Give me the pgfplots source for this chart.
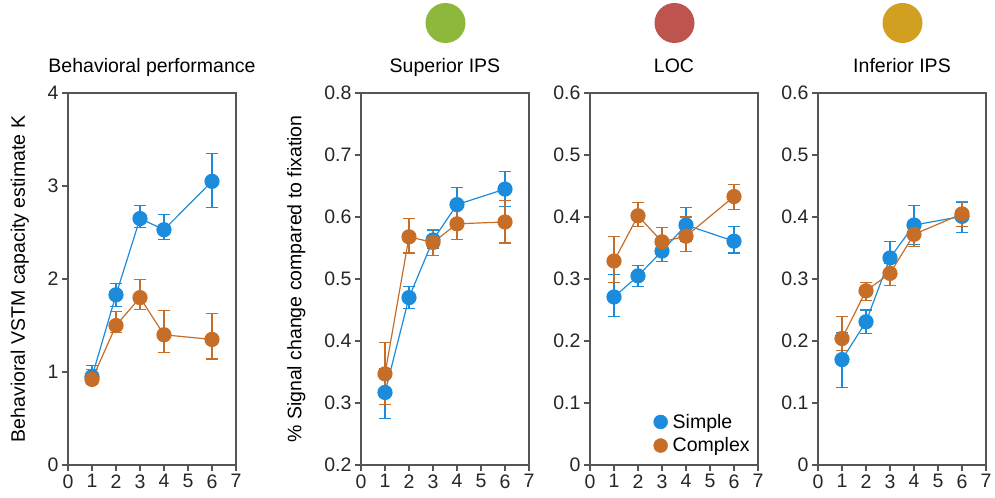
\documentclass[border=0pt]{standalone}
\usepackage{fontspec}
\setmainfont{Liberation Sans}
\usepackage{pgfplots}
\pgfplotsset{compat=1.18}

\definecolor{cSimple}{HTML}{1A8CDB}
\definecolor{cComplex}{HTML}{C66E28}
\definecolor{cGreen}{HTML}{8DB83C}
\definecolor{cRed}{HTML}{BE5450}
\definecolor{cGold}{HTML}{D1A020}
\definecolor{cAxis}{HTML}{555555}

\newcommand\tf{\fontsize{19.5bp}{23bp}\selectfont}

\pgfplotsset{
  panel/.style={
    scale only axis, width=168bp, height=372bp,
    anchor=south west,
    xmin=0, xmax=7, xtick={0,...,7},
    tick pos=left, tick align=outside, major tick length=6bp,
    axis line style={cAxis, line width=1.2bp},
    every tick/.style={cAxis, line width=1.2bp},
    tick label style={font=\tf, text=black!85},
    /pgf/number format/assume math mode=true,
    title style={font=\tf, at={(0.5,1)}, anchor=base, yshift=15bp},
    label style={font=\tf},
    clip=false,
  },
  simple/.style={cSimple, line width=1.2bp, mark=*, mark size=7bp,
    mark options={fill=cSimple, draw=cSimple},
    error bars/.cd, y dir=both, y explicit,
    error bar style={line width=1.1bp, cSimple},
    error mark options={rotate=90, mark size=6bp, line width=1.1bp, cSimple},
    /pgfplots/.cd},
  complex/.style={cComplex, line width=1.2bp, mark=*, mark size=7bp,
    mark options={fill=cComplex, draw=cComplex},
    error bars/.cd, y dir=both, y explicit,
    error bar style={line width=1.1bp, cComplex},
    error mark options={rotate=90, mark size=6bp, line width=1.1bp, cComplex},
    /pgfplots/.cd},
}

\begin{document}
\begin{tikzpicture}
\useasboundingbox (0,0) rectangle (995bp,498bp);

% behavioral
\begin{axis}[panel, at={(68bp,33bp)},
  ymin=0, ymax=4, ytick={0,1,2,3,4},
  title={Behavioral performance},
  ylabel={Behavioral VSTM capacity estimate K},
  ylabel style={at={(axis description cs:-0.286,0.5)}, anchor=center}]
\addplot[simple] coordinates {
  (1,0.95) +=(0,0.12) -=(0,0.07)
  (2,1.83) +=(0,0.12) -=(0,0.13)
  (3,2.65) +=(0,0.14) -=(0,0.10)
  (4,2.53) +=(0,0.16) -=(0,0.11)
  (6,3.05) +=(0,0.30) -=(0,0.28)};
\addplot[complex] coordinates {
  (1,0.92) +=(0,0.11) -=(0,0.04)
  (2,1.50) +=(0,0.15) -=(0,0.08)
  (3,1.80) +=(0,0.19) -=(0,0.13)
  (4,1.40) +=(0,0.26) -=(0,0.19)
  (6,1.35) +=(0,0.28) -=(0,0.21)};
\end{axis}

% superior IPS
\begin{axis}[panel, at={(361bp,33bp)},
  ymin=0.2, ymax=0.8, ytick={0.2,0.3,...,0.8},
  yticklabel style={/pgf/number format/.cd, fixed, precision=1},
  title={Superior IPS},
  ylabel={\% Signal change compared to fixation},
  ylabel style={at={(axis description cs:-0.385,0.5)}, anchor=center}]
\addplot[simple] coordinates {
  (1,0.317) +=(0,0.038) -=(0,0.042)
  (2,0.470) +=(0,0.018) -=(0,0.018)
  (3,0.563) +=(0,0.015) -=(0,0.013)
  (4,0.620) +=(0,0.027) -=(0,0.025)
  (6,0.645) +=(0,0.028) -=(0,0.028)};
\addplot[complex] coordinates {
  (1,0.347) +=(0,0.051) -=(0,0.049)
  (2,0.568) +=(0,0.029) -=(0,0.026)
  (3,0.559) +=(0,0.021) -=(0,0.021)
  (4,0.589) +=(0,0.024) -=(0,0.026)
  (6,0.592) +=(0,0.034) -=(0,0.034)};
\end{axis}

% LOC
\begin{axis}[panel, at={(590bp,33bp)},
  ymin=0, ymax=0.6, ytick={0,0.1,...,0.6},
  title={LOC},
  legend style={draw=none, fill=none, font=\tf, at={(0.36,0.02)}, anchor=south west,
    row sep=4bp, nodes={anchor=west, inner xsep=5bp}},
  legend cell align=left]
\addlegendimage{only marks, mark=*, mark size=7bp, cSimple}
\addlegendimage{only marks, mark=*, mark size=7bp, cComplex}
\addplot[simple, forget plot] coordinates {
  (1,0.271) +=(0,0.036) -=(0,0.031)
  (2,0.305) +=(0,0.017) -=(0,0.017)
  (3,0.345) +=(0,0.017) -=(0,0.017)
  (4,0.387) +=(0,0.029) -=(0,0.027)
  (6,0.361) +=(0,0.024) -=(0,0.019)};
\addplot[complex, forget plot] coordinates {
  (1,0.329) +=(0,0.039) -=(0,0.034)
  (2,0.402) +=(0,0.022) -=(0,0.017)
  (3,0.360) +=(0,0.023) -=(0,0.020)
  (4,0.369) +=(0,0.031) -=(0,0.025)
  (6,0.433) +=(0,0.020) -=(0,0.021)};
\legend{Simple, Complex}
\end{axis}

% inferior IPS
\begin{axis}[panel, at={(818bp,33bp)},
  ymin=0, ymax=0.6, ytick={0,0.1,...,0.6},
  title={Inferior IPS}]
\addplot[simple] coordinates {
  (1,0.170) +=(0,0.043) -=(0,0.045)
  (2,0.231) +=(0,0.019) -=(0,0.019)
  (3,0.334) +=(0,0.026) -=(0,0.024)
  (4,0.387) +=(0,0.032) -=(0,0.032)
  (6,0.401) +=(0,0.022) -=(0,0.026)};
\addplot[complex] coordinates {
  (1,0.204) +=(0,0.035) -=(0,0.020)
  (2,0.281) +=(0,0.014) -=(0,0.016)
  (3,0.309) +=(0,0.016) -=(0,0.019)
  (4,0.372) +=(0,0.020) -=(0,0.019)
  (6,0.405) +=(0,0.020) -=(0,0.021)};
\end{axis}

% region colour dots
\fill[cGreen] (445.5bp,475bp) circle (20bp);
\fill[cRed] (674.5bp,475bp) circle (20bp);
\fill[cGold] (902.5bp,475bp) circle (20bp);
\end{tikzpicture}
\end{document}
